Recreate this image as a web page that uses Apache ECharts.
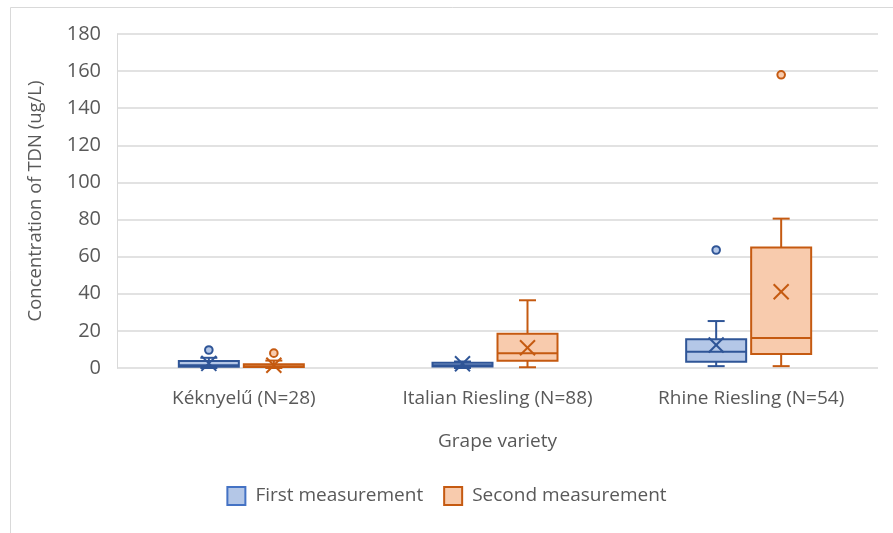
<!DOCTYPE html>
<html><head><meta charset="utf-8">
<script src="https://cdn.jsdelivr.net/npm/echarts@6/dist/echarts.min.js"></script>
<style>html,body{margin:0;padding:0;background:#fff}#c{width:893px;height:533px}</style>
</head><body><div id="c"></div>
<script>
const categories = ['Kéknyelű (N=28)', 'Italian Riesling (N=88)', 'Rhine Riesling (N=54)'];
const seriesNames = ['First measurement', 'Second measurement'];
// [min, Q1, median, Q3, max]
const firstBox  = [[0, 0.7, 1.5, 3.8, 5.5], [0, 0.8, 1.5, 2.8, 3.5], [1, 3.4, 8.8, 15.5, 25.3]];
const secondBox = [[0, 0.5, 1.0, 2.0, 4.0], [0.4, 3.9, 7.9, 18.5, 36.5], [1, 7.5, 16.2, 65, 80.5]];
const firstMean  = [2.5, 2.3, 12.4];
const secondMean = [1.5, 10.9, 41.1];
const firstOutliers  = [[9.7], [], [63.6]];
const secondOutliers = [[8], [], [158]];
const yTicks = [0, 20, 40, 60, 80, 100, 120, 140, 160, 180];

const FONT = 'Open Sans';
const TXT = '#595959';
const styles = [
  {fill: '#b4c7e7', stroke: '#4472c4', line: '#2f5597', off: [-65, -5]},
  {fill: '#f8cbad', stroke: '#c55a11', line: '#c55a11', off: [0, 60]}
];

function makeSeries(si, boxes, means, outliers) {
  const st = styles[si];
  return {
    name: seriesNames[si],
    type: 'custom',
    itemStyle: {color: st.fill, borderColor: st.stroke, borderWidth: 2},
    encode: {x: 0, y: [1, 2, 3, 4, 5]},
    data: boxes.map((b, i) => [i].concat(b)),
    renderItem: function (params, api) {
      const i = api.value(0);
      const c = api.coord([i, 0]);
      const x0 = c[0] + st.off[0], x1 = c[0] + st.off[1], xm = (x0 + x1) / 2;
      const y = v => api.coord([i, v])[1];
      const yMin = y(api.value(1)), yQ1 = y(api.value(2)), yMed = y(api.value(3)),
            yQ3 = y(api.value(4)), yMax = y(api.value(5));
      const ls = {stroke: st.line, lineWidth: 2, fill: null};
      const capW = 8.5;
      const children = [
        {type: 'line', shape: {x1: xm, y1: yQ3, x2: xm, y2: yMax}, style: ls},
        {type: 'line', shape: {x1: xm - capW, y1: yMax, x2: xm + capW, y2: yMax}, style: ls},
        {type: 'line', shape: {x1: xm, y1: yQ1, x2: xm, y2: yMin}, style: ls},
        {type: 'line', shape: {x1: xm - capW, y1: yMin, x2: xm + capW, y2: yMin}, style: ls},
        {type: 'rect', shape: {x: x0, y: yQ3, width: x1 - x0, height: Math.max(yQ1 - yQ3, 1)},
          style: {fill: st.fill, stroke: st.line, lineWidth: 2}},
        {type: 'line', shape: {x1: x0, y1: yMed, x2: x1, y2: yMed}, style: ls}
      ];
      const ym = y(means[i]);
      const h = 7.5;
      children.push({type: 'line', shape: {x1: xm - h, y1: ym - h, x2: xm + h, y2: ym + h}, style: ls});
      children.push({type: 'line', shape: {x1: xm - h, y1: ym + h, x2: xm + h, y2: ym - h}, style: ls});
      outliers[i].forEach(v => {
        children.push({type: 'circle', shape: {cx: xm, cy: y(v), r: 3.8},
          style: {fill: st.fill, stroke: st.line, lineWidth: 2}});
      });
      return {type: 'group', children: children};
    },
    z: 3
  };
}

const chart = echarts.init(document.getElementById('c'), null, {renderer: 'canvas'});
chart.setOption({
  animation: false,
  backgroundColor: '#fff',
  graphic: [{type: 'rect', shape: {x: 10.5, y: 7.5, width: 900, height: 540},
    style: {fill: null, stroke: '#d9d9d9', lineWidth: 1}, silent: true, z: -1}],
  grid: {left: 117, right: 15, top: 34, bottom: 165, containLabel: false},
  xAxis: {
    type: 'category', data: categories,
    axisLine: {show: false}, axisTick: {show: false},
    axisLabel: {color: TXT, fontFamily: FONT, fontSize: 19, margin: 21},
    name: 'Grape variety', nameLocation: 'middle', nameGap: 64,
    nameTextStyle: {color: TXT, fontFamily: FONT, fontSize: 19}
  },
  yAxis: {
    type: 'value', min: yTicks[0], max: yTicks[yTicks.length - 1], interval: 20,
    axisLine: {show: true, lineStyle: {color: '#d9d9d9', width: 1}},
    axisTick: {show: false},
    splitLine: {lineStyle: {color: '#d9d9d9', width: 1.5}},
    axisLabel: {color: TXT, fontFamily: FONT, fontSize: 20, margin: 16},
    name: 'Concentration of TDN (ug/L)', nameLocation: 'middle', nameGap: 72, nameRotate: 90,
    nameTextStyle: {color: TXT, fontFamily: FONT, fontSize: 18.5}
  },
  legend: {
    bottom: 22, left: 'center', icon: 'rect', itemWidth: 18, itemHeight: 18, itemGap: 20,
    textStyle: {color: TXT, fontFamily: FONT, fontSize: 19, padding: [0, 0, 0, 5]},
    data: [
      {name: seriesNames[0], itemStyle: {color: styles[0].fill, borderColor: styles[0].stroke, borderWidth: 2}},
      {name: seriesNames[1], itemStyle: {color: styles[1].fill, borderColor: styles[1].stroke, borderWidth: 2}}
    ]
  },
  series: [
    makeSeries(0, firstBox, firstMean, firstOutliers),
    makeSeries(1, secondBox, secondMean, secondOutliers)
  ]
});
</script></body></html>
